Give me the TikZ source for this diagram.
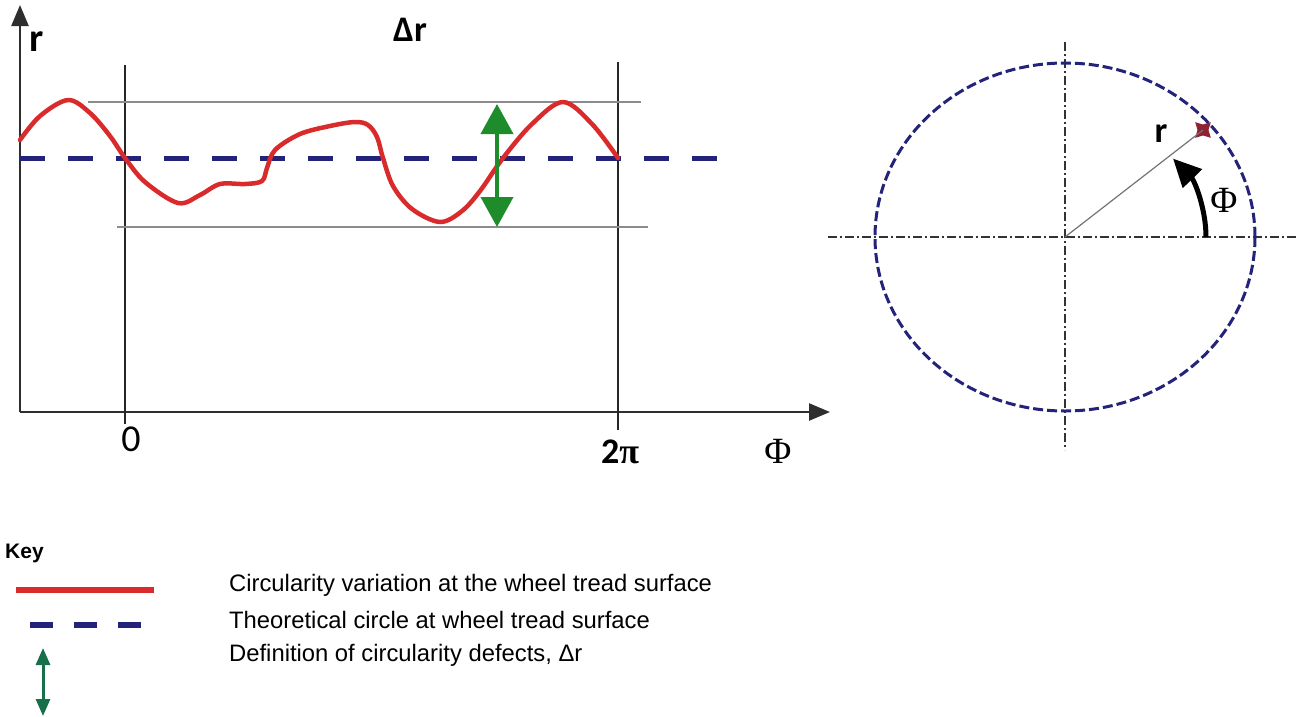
\documentclass[tikz,border=0pt]{standalone}
\usepackage{fontspec}
\setmainfont{Liberation Sans}
\newfontfamily\labelfont{Carlito}
\newfontfamily\greekfont{Liberation Serif}
\usetikzlibrary{arrows.meta,shapes.geometric}

\definecolor{curvered}{HTML}{D92B2B}
\definecolor{circleblue}{HTML}{23237A}
\definecolor{defgreen}{HTML}{1E8C2A}
\definecolor{keygreen}{HTML}{17704A}
\definecolor{guidegray}{HTML}{8C8C8C}
\definecolor{axisgray}{HTML}{2E2E2E}
\definecolor{markred}{HTML}{8E2233}

\begin{document}
\begin{tikzpicture}[x=1pt,y=-1pt,
    axis/.style={line width=2.5pt, axisgray, -{Triangle[width=17pt,length=21pt]}},
    guide/.style={line width=1.8pt, guidegray},
    bound/.style={line width=1.5pt, black!85},
    variation/.style={line width=4.5pt, curvered, line join=round, line cap=round},
    theory/.style={line width=5pt, circleblue, dash pattern=on 25pt off 23pt},
    defect/.style={line width=4pt, defgreen,
        {Triangle[width=32pt,length=30pt]}-{Triangle[width=32pt,length=30pt]}},
    centreline/.style={line width=1.4pt, black!80, dash pattern=on 9pt off 3pt on 2pt off 3pt},
    lbl/.style={font=\labelfont\bfseries\fontsize{36}{38}\selectfont, inner sep=0pt},
    philbl/.style={font=\greekfont\fontsize{37}{39}\selectfont, inner sep=0pt},
    keytext/.style={anchor=west, inner sep=0pt, font=\fontsize{23.8}{26}\selectfont}]
    \useasboundingbox (0,0) rectangle (1296,716);

    % axes of the profile
    \coordinate (origin) at (20,412);
    \draw[axis] (origin) -- (20,5);
    \draw[axis] (origin) -- (830,412);
    \node[lbl, font=\labelfont\bfseries\fontsize{40}{42}\selectfont] (rlabel) at (37,42) {r};
    \node[philbl] (philabel) at (778,451) {Φ};

    % period 0 .. 2pi
    \draw[bound] (125,65) -- (125,424);
    \draw[bound] (618,62) -- (618,430);
    \node[font=\labelfont\fontsize{38}{40}\selectfont, inner sep=0pt] (zero) at (131,439) {0};
    \node[lbl] (twopi) at (620,452) {2{\greekfont π}};

    % limits of the variation
    \draw[guide] (88,102) -- (641,102);
    \draw[guide] (117,227) -- (648,227);

    % theoretical circle, unrolled
    \draw[theory] (20,158) -- (727,158);

    % measured variation
    \draw[variation] plot[smooth, tension=0.55] coordinates {
        (20,140) (40,116) (68,100) (90,113) (110,136) (125,158) (145,182)
        (178,203) (200,195) (220,184) (245,184) (262,181) (267,168) (275,150)
        (300,134) (330,126) (355,122) (368,125) (377,137) (383,158) (393,186)
        (412,209) (440,222) (462,211) (480,191) (503,158) (532,124) (563,102)
        (592,124) (618,158)};

    % circularity defect
    \coordinate (dtop) at (497,104);
    \coordinate (dbot) at (497,227);
    \draw[defect] (dtop) -- (dbot);
    \node[lbl] (deltar) at (410,30) {Δr};

    % wheel section
    \coordinate (centre) at (1065,237);
    \draw[centreline] (828,237) -- (1296,237);
    \draw[centreline] (1065,42) -- (1065,450);
    \draw[line width=3pt, circleblue, dash pattern=on 10pt off 4pt] (centre) ellipse[x radius=190, y radius=174];
    \node[star, star points=4, star point ratio=0.5, fill=markred, minimum size=11pt, inner sep=0pt] (rtip) at (1203,130) {};
    \draw[line width=1.2pt, black!55] (centre) -- (rtip.center);
    \node[lbl] (rcircle) at (1161,134) {r};
    \draw[line width=5pt, -{Triangle[width=26pt,length=28pt]}] (1206,237) arc[start angle=0, end angle=-40, x radius=141, y radius=122];
    \node[philbl] (phiangle) at (1224,200) {Φ};

    % key
    \node[anchor=west, inner sep=0pt, font=\bfseries\fontsize{21}{24}\selectfont] (key) at (5,553) {Key};
    \draw[line width=6pt, curvered] (16,590) -- (154,590);
    \draw[line width=6pt, circleblue, dash pattern=on 23pt off 21pt] (30,625) -- (145,625);
    \draw[line width=3pt, keygreen, {Triangle[width=14pt,length=17pt]}-{Triangle[width=14pt,length=17pt]}] (43,648) -- (43,716);
    \node[keytext] (k1) at (229,585) {Circularity variation at the wheel tread surface};
    \node[keytext] (k2) at (229,620) {Theoretical circle at wheel tread surface};
    \node[keytext] (k3) at (229,655) {Definition of circularity defects, Δr};
\end{tikzpicture}
\end{document}
